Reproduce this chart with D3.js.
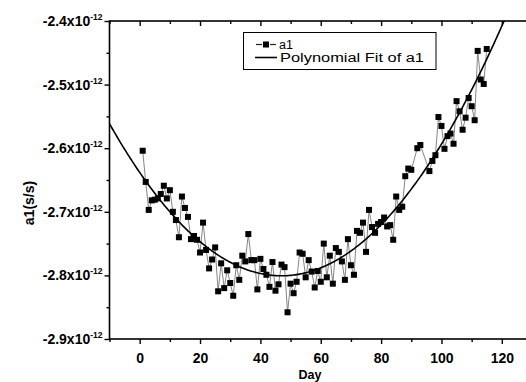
<!DOCTYPE html>
<html>
<head>
<meta charset="utf-8">
<script src="https://cdn.jsdelivr.net/npm/d3@7"></script>
<style>
html,body{margin:0;padding:0;background:#fff;}
svg{display:block;}
text{font-family:"Liberation Sans",Arial,sans-serif;fill:#000;}
</style>
</head>
<body>
<svg id="chart" width="526" height="382"></svg>
<script>
// Day of each measurement
const days = [1,2,3,4,5,6,7,8,9,10,11,12,13,14,15,16,17,18,19,20,
  21,22,23,24,25,26,27,28,29,30,31,32,33,34,35,36,37,38,39,40,
  41,42,43,44,45,46,47,48,49,50,51,52,53,54,55,56,57,58,59,60,
  61,62,63,64,65,66,67,68,69,70,71,72,73,74,75,76,77,78,79,80,
  81,82,83,84,85,86,87,88,89,90,92,93,96,97,98,99,100,
  101,102,103,104,105,106,107,108,109,110,111,112,113,114,115];
// a1 values in units of 1e-12 s/s
const a1 = [-2.604,-2.653,-2.697,-2.682,-2.681,-2.679,-2.672,-2.659,-2.679,-2.666,
  -2.700,-2.713,-2.740,-2.676,-2.694,-2.708,-2.743,-2.738,-2.744,-2.764,
  -2.717,-2.760,-2.789,-2.775,-2.756,-2.825,-2.781,-2.820,-2.792,-2.812,
  -2.832,-2.784,-2.807,-2.769,-2.778,-2.735,-2.776,-2.776,-2.822,-2.774,
  -2.790,-2.799,-2.818,-2.779,-2.824,-2.814,-2.783,-2.787,-2.858,-2.813,
  -2.828,-2.810,-2.764,-2.766,-2.803,-2.776,-2.794,-2.819,-2.793,-2.810,
  -2.750,-2.803,-2.769,-2.813,-2.757,-2.763,-2.778,-2.807,-2.743,-2.784,
  -2.799,-2.730,-2.733,-2.717,-2.763,-2.697,-2.724,-2.733,-2.719,-2.716,
  -2.709,-2.723,-2.721,-2.744,-2.676,-2.697,-2.692,-2.644,-2.632,-2.634,
  -2.600,-2.595,-2.636,-2.620,-2.611,-2.551,-2.565,
  -2.601,-2.581,-2.577,-2.593,-2.526,-2.542,-2.571,-2.552,-2.521,-2.534,
  -2.556,-2.447,-2.492,-2.499,-2.444];

const xTicks = [0,20,40,60,80,100,120];
const xMinorTicks = [-10,10,30,50,70,90,110,130];
const yTicks = [-2.9,-2.8,-2.7,-2.6,-2.5,-2.4];
const yMinorTicks = [-2.85,-2.75,-2.65,-2.55,-2.45];
const yTickLabels = ["-2.9x10","-2.8x10","-2.7x10","-2.6x10","-2.5x10","-2.4x10"];
const yExponent = "-12";
const xTitle = "Day";
const yTitle = "a1(s/s)";
const legendLabels = ["a1","Polynomial Fit of a1"];
const fitOrder = 2;

const svg = d3.select("#chart");
const x = d3.scaleLinear().domain([-10,130]).range([109.5,532]);
const y = d3.scaleLinear().domain([-2.9,-2.4]).range([339,21]);

// Least squares polynomial fit computed from the data
function polyfit(xs, ys, order){
  const n = order+1;
  const A = Array.from({length:n},()=>new Array(n+1).fill(0));
  for(let k=0;k<xs.length;k++){
    for(let i=0;i<n;i++){
      for(let j=0;j<n;j++) A[i][j]+=Math.pow(xs[k],i+j);
      A[i][n]+=ys[k]*Math.pow(xs[k],i);
    }
  }
  for(let i=0;i<n;i++){
    let p=i;
    for(let r=i+1;r<n;r++) if(Math.abs(A[r][i])>Math.abs(A[p][i])) p=r;
    [A[i],A[p]]=[A[p],A[i]];
    for(let r=0;r<n;r++){
      if(r===i) continue;
      const f=A[r][i]/A[i][i];
      for(let c=i;c<=n;c++) A[r][c]-=f*A[i][c];
    }
  }
  return A.map((row,i)=>row[n]/row[i]);
}
const coef = polyfit(days, a1, fitOrder);
const fitFn = d => coef.reduce((s,c,i)=>s+c*Math.pow(d,i),0);
const fitDays = d3.range(-10,130.01,0.5);

svg.append("defs").append("clipPath").attr("id","plotclip")
  .append("rect").attr("x",x(-10)).attr("y",y(-2.4)).attr("width",x(130)-x(-10)).attr("height",y(-2.9)-y(-2.4));

const plot = svg.append("g").attr("clip-path","url(#plotclip)");

// connecting line
plot.append("path")
  .datum(days.map((d,i)=>[d,a1[i]]))
  .attr("fill","none").attr("stroke","#777").attr("stroke-width",0.9)
  .attr("d", d3.line().x(d=>x(d[0])).y(d=>y(d[1])));

// markers
const ms = 6;
plot.selectAll("rect.pt").data(days.map((d,i)=>[d,a1[i]])).enter()
  .append("rect").attr("class","pt")
  .attr("x",d=>x(d[0])-ms/2).attr("y",d=>y(d[1])-ms/2)
  .attr("width",ms).attr("height",ms).attr("fill","#000");

// fit curve
plot.append("path")
  .datum(fitDays.map(d=>[d,fitFn(d)]))
  .attr("fill","none").attr("stroke","#000").attr("stroke-width",1.6)
  .attr("d", d3.line().x(d=>x(d[0])).y(d=>y(d[1])));

// Axes
const axisG = svg.append("g");
const fmt = d => d;
// bottom
axisG.append("g").attr("transform",`translate(0,${y(-2.9)})`)
  .call(d3.axisBottom(x).tickValues(xTicks).tickSize(5).tickPadding(9).tickFormat(fmt))
  .call(g=>g.select(".domain").remove());
axisG.append("g").attr("transform",`translate(0,${y(-2.9)})`)
  .call(d3.axisBottom(x).tickValues(xMinorTicks).tickSize(3).tickFormat(""))
  .call(g=>g.select(".domain").remove());
// top (inward ticks)
axisG.append("g").attr("transform",`translate(0,${y(-2.4)})`)
  .call(d3.axisBottom(x).tickValues(xTicks).tickSize(5).tickFormat(""))
  .call(g=>g.select(".domain").remove());
axisG.append("g").attr("transform",`translate(0,${y(-2.4)})`)
  .call(d3.axisBottom(x).tickValues(xMinorTicks).tickSize(3).tickFormat(""))
  .call(g=>g.select(".domain").remove());
// left
axisG.append("g").attr("transform",`translate(${x(-10)},0)`)
  .call(d3.axisLeft(y).tickValues(yTicks).tickSize(5).tickPadding(6).tickFormat(""))
  .call(g=>g.select(".domain").remove());
axisG.append("g").attr("transform",`translate(${x(-10)},0)`)
  .call(d3.axisLeft(y).tickValues(yMinorTicks).tickSize(3).tickFormat(""))
  .call(g=>g.select(".domain").remove());
// right (inward ticks)
axisG.append("g").attr("transform",`translate(${x(130)},0)`)
  .call(d3.axisLeft(y).tickValues(yTicks).tickSize(5).tickFormat(""))
  .call(g=>g.select(".domain").remove());
axisG.append("g").attr("transform",`translate(${x(130)},0)`)
  .call(d3.axisLeft(y).tickValues(yMinorTicks).tickSize(3).tickFormat(""))
  .call(g=>g.select(".domain").remove());

axisG.selectAll(".tick line").attr("stroke","#000").attr("stroke-width",1.4);
axisG.selectAll(".tick text").attr("font-family","'Liberation Sans',Arial,sans-serif")
  .attr("font-size",14).attr("font-weight","bold").attr("fill","#000");

// frame
svg.append("rect").attr("x",x(-10)).attr("y",y(-2.4))
  .attr("width",x(130)-x(-10)).attr("height",y(-2.9)-y(-2.4))
  .attr("fill","none").attr("stroke","#000").attr("stroke-width",1.6);

// y tick labels with superscript
const yl = svg.append("g");
yTicks.forEach((v,i)=>{
  const t = yl.append("text").attr("x",x(-10)-7).attr("y",y(v)+5)
    .attr("text-anchor","end").attr("font-size",14).attr("font-weight","bold");
  t.append("tspan").text(yTickLabels[i]);
  t.append("tspan").attr("font-size",8.5).attr("dy",-6).text(yExponent);
});

// titles
svg.append("text").attr("x",310).attr("y",379)
  .attr("text-anchor","middle").attr("font-size",12.5).attr("font-weight","bold").text(xTitle);
svg.append("text").attr("transform",`translate(34,203) rotate(-90)`)
  .attr("text-anchor","middle").attr("font-size",14).attr("font-weight","bold").text(yTitle);

// legend
const lg = svg.append("g");
lg.append("rect").attr("x",243.5).attr("y",32.5).attr("width",192.5).attr("height",37)
  .attr("fill","#fff").attr("stroke","#000").attr("stroke-width",1);
lg.append("line").attr("x1",256).attr("x2",262).attr("y1",44.5).attr("y2",44.5)
  .attr("stroke","#222").attr("stroke-width",1.2);
lg.append("line").attr("x1",270).attr("x2",276).attr("y1",44.5).attr("y2",44.5)
  .attr("stroke","#222").attr("stroke-width",1.2);
lg.append("rect").attr("x",266-3).attr("y",44.5-3).attr("width",6).attr("height",6).attr("fill","#000");
lg.append("text").attr("x",279).attr("y",49).attr("font-size",12.5)
  .attr("textLength",14).attr("lengthAdjust","spacingAndGlyphs").text(legendLabels[0]);
lg.append("line").attr("x1",255).attr("x2",277).attr("y1",57.5).attr("y2",57.5)
  .attr("stroke","#000").attr("stroke-width",1.6);
lg.append("text").attr("x",280).attr("y",62).attr("font-size",12.5)
  .attr("textLength",144).attr("lengthAdjust","spacingAndGlyphs").text(legendLabels[1]);
</script>
</body>
</html>
